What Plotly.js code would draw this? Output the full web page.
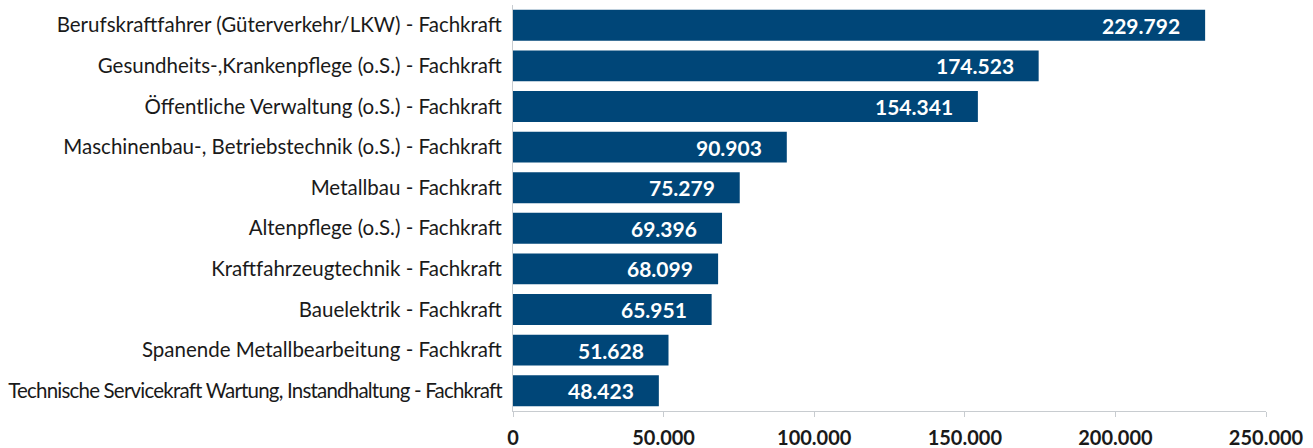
<!DOCTYPE html>
<html><head><meta charset="utf-8">
<script src="https://cdn.plot.ly/plotly-3.0.1.min.js"></script>
<style>body{margin:0;background:#fff}#c{width:1313px;height:448px}</style>
</head><body><div id="c"></div>
<script>
const categories = [
  "Berufskraftfahrer (Güterverkehr/LKW) - Fachkraft",
  "Gesundheits-,Krankenpflege (o.S.) - Fachkraft",
  "Öffentliche Verwaltung (o.S.) - Fachkraft",
  "Maschinenbau-, Betriebstechnik (o.S.) - Fachkraft",
  "Metallbau - Fachkraft",
  "Altenpflege (o.S.) - Fachkraft",
  "Kraftfahrzeugtechnik - Fachkraft",
  "Bauelektrik - Fachkraft",
  "Spanende Metallbearbeitung - Fachkraft",
  "Technische Servicekraft Wartung, Instandhaltung - Fachkraft"
];
const values = [229792, 174523, 154341, 90903, 75279, 69396, 68099, 65951, 51628, 48423];
const tickValues = [0, 50000, 100000, 150000, 200000, 250000];

const fmt = v => v.toString().replace(/\B(?=(\d{3})+(?!\d))/g, ".");
const color = "#004678";

const annotations = categories.map((c, i) => ({
  x: values[i], y: c, xref: 'x', yref: 'y',
  text: fmt(values[i]), showarrow: false,
  xanchor: 'right', xshift: -23, yshift: 0,
  font: {family: 'Lato', size: 21, color: '#ffffff', weight: 'bold'}
}));

Plotly.newPlot('c', [{
  type: 'bar', orientation: 'h',
  x: values, y: categories,
  marker: {color: color},
  hoverinfo: 'none'
}], {
  width: 1313, height: 448,
  margin: {l: 513, r: 47, t: 5, b: 37},
  separators: ',.',
  bargap: 0.24,
  paper_bgcolor: '#fff', plot_bgcolor: '#fff',
  showlegend: false,
  font: {family: 'Lato', color: '#1a1a1a'},
  xaxis: {
    range: [0, 250000], tickvals: tickValues, tickformat: ',d',
    showgrid: false, zeroline: false,
    showline: true, linecolor: '#c8ccd0', linewidth: 1,
    ticks: 'outside', ticklen: 5, tickcolor: '#c8ccd0',
    ticklabelstandoff: 4,
    tickfont: {family: 'Lato', size: 20, color: '#1a1a1a', weight: 'bold'}
  },
  yaxis: {
    autorange: 'reversed', showgrid: false, zeroline: false,
    showline: true, linecolor: '#c8ccd0', linewidth: 1,
    ticks: '', ticklabelstandoff: 6,
    tickfont: {family: 'Lato', size: 20.5, color: '#1a1a1a'}
  },
  annotations: annotations
}, {staticPlot: true}).then(gd => {
  const ticks = gd.querySelectorAll('.ytick text');
  ticks.forEach(t => {
    if (t.textContent.indexOf('Technische') === 0) t.style.letterSpacing = '-0.8px';
  });
});
</script></body></html>
